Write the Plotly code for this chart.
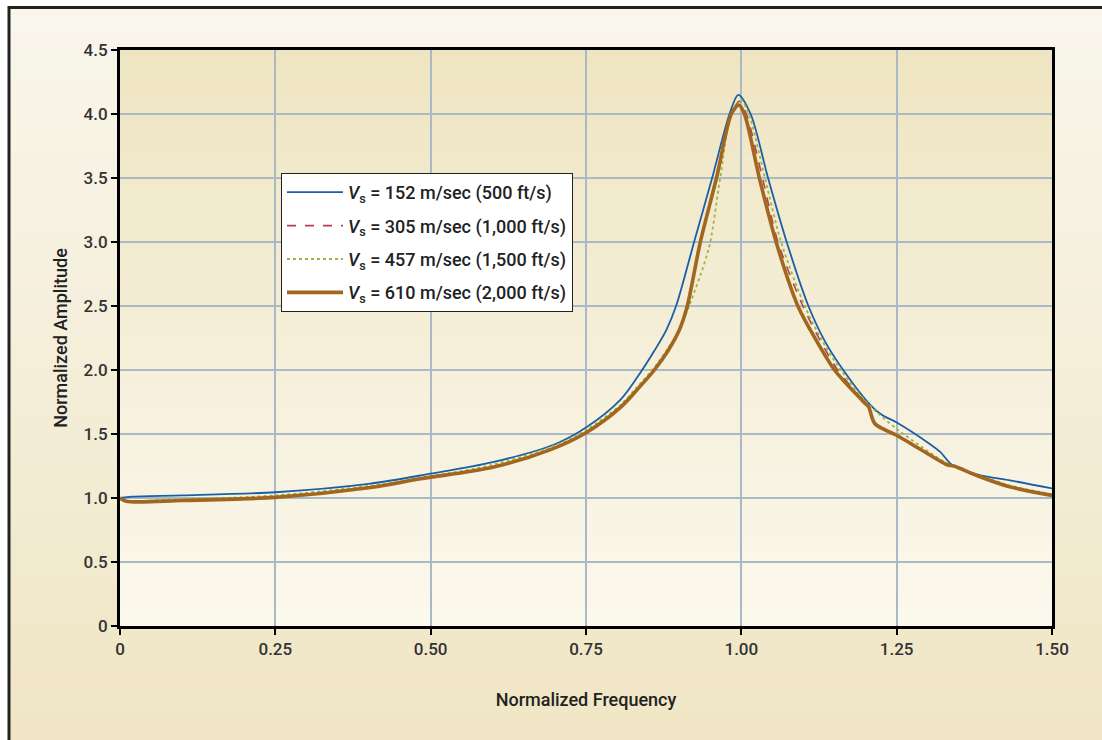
import plotly.graph_objects as go

# ---------------- data ----------------
x_152 = [0, 0.02, 0.1, 0.25, 0.4, 0.5, 0.6, 0.7, 0.75, 0.806, 0.839, 0.86, 0.879, 0.895, 0.924, 0.953, 0.981,
         0.995, 1.015, 1.043, 1.073, 1.108, 1.135, 1.164, 1.207, 1.226, 1.25, 1.301, 1.32, 1.339, 1.382, 1.43, 1.5]
y_152 = [1.0, 1.01, 1.02, 1.045, 1.11, 1.19, 1.28, 1.42, 1.55, 1.77, 1.99, 2.15, 2.31, 2.5, 3.0, 3.5, 4.0,
         4.15, 4.0, 3.5, 3.0, 2.5, 2.22, 2.0, 1.73, 1.65, 1.59, 1.43, 1.36, 1.26, 1.18, 1.14, 1.075]

x_305 = [0, 0.01, 0.1, 0.25, 0.4, 0.484, 0.6, 0.694, 0.75, 0.806, 0.833, 0.86, 0.882, 0.9, 0.913, 0.934, 0.960,
         0.984, 0.997, 1.008, 1.034, 1.059, 1.099, 1.127, 1.155, 1.2, 1.205, 1.215, 1.25, 1.29, 1.331, 1.342,
         1.382, 1.43, 1.5]
y_305 = [1.0, 0.978, 0.983, 1.01, 1.085, 1.155, 1.245, 1.385, 1.515, 1.715, 1.86, 2.0, 2.16, 2.31, 2.5, 3.0, 3.5,
         4.0, 4.10, 4.0, 3.5, 3.0, 2.5, 2.23, 2.0, 1.74, 1.71, 1.59, 1.495, 1.38, 1.26, 1.25,
         1.17, 1.09, 1.025]

x_457 = [0, 0.01, 0.1, 0.25, 0.4, 0.5, 0.6, 0.694, 0.75, 0.806, 0.833, 0.86, 0.882, 0.9, 0.916, 0.941, 0.950,
         0.966, 0.984, 1.0, 1.012, 1.038, 1.064, 1.102, 1.13, 1.16, 1.205, 1.25, 1.29, 1.335, 1.382, 1.43, 1.5]
y_457 = [1.0, 0.98, 0.99, 1.02, 1.095, 1.17, 1.26, 1.40, 1.53, 1.73, 1.87, 2.02, 2.17, 2.31, 2.5, 2.84, 3.0,
         3.5, 4.0, 4.10, 4.0, 3.5, 3.0, 2.5, 2.23, 2.0, 1.73, 1.54, 1.40, 1.26, 1.18, 1.10, 1.03]

x_610 = [0, 0.01, 0.1, 0.25, 0.4, 0.484, 0.6, 0.694, 0.75, 0.806, 0.833, 0.86, 0.882, 0.9, 0.913, 0.934, 0.960,
         0.984, 0.996, 1.005, 1.029, 1.056, 1.091, 1.122, 1.15, 1.164, 1.199, 1.205, 1.215, 1.25, 1.29, 1.331,
         1.342, 1.382, 1.43, 1.5]
y_610 = [1.0, 0.975, 0.98, 1.005, 1.08, 1.15, 1.24, 1.38, 1.51, 1.71, 1.85, 2.0, 2.15, 2.31, 2.5, 3.0, 3.5,
         4.0, 4.07, 4.0, 3.5, 3.0, 2.5, 2.22, 2.0, 1.92, 1.74, 1.71, 1.58, 1.49, 1.375, 1.26,
         1.25, 1.17, 1.09, 1.02]

names = ["<i>V</i><sub>s</sub> = 152 m/sec (500 ft/s)",
         "<i>V</i><sub>s</sub> = 305 m/sec (1,000 ft/s)",
         "<i>V</i><sub>s</sub> = 457 m/sec (1,500 ft/s)",
         "<i>V</i><sub>s</sub> = 610 m/sec (2,000 ft/s)"]

x_tickvals = [0, 0.25, 0.5, 0.75, 1.0, 1.25, 1.5]
x_ticktext = ["0", "0.25", "0.50", "0.75", "1.00", "1.25", "1.50"]
y_tickvals = [0, 0.5, 1.0, 1.5, 2.0, 2.5, 3.0, 3.5, 4.0, 4.5]
y_ticktext = ["0", "0.5", "1.0", "1.5", "2.0", "2.5", "3.0", "3.5", "4.0", "4.5"]

# ---------------- figure ----------------
FONT = "Roboto, Liberation Sans, sans-serif"
fig = go.Figure()

series = [
    (x_152, y_152, dict(color="#1a5fa6", width=1.8)),
    (x_305, y_305, dict(color="#b0404c", width=1.6, dash="dash")),
    (x_457, y_457, dict(color="#9cb443", width=1.8, dash="dot")),
    (x_610, y_610, dict(color="#a1661f", width=3.6)),
]
for i, (xs, ys, ln) in enumerate(series):
    ln = dict(ln, shape="spline", smoothing=0.85)
    fig.add_trace(go.Scatter(x=xs, y=ys, mode="lines", name=names[i], legendgroup=f"g{i}", line=ln))

W, H = 1102, 740
L, R, T, B = 120, 50, 50, 114
pw, ph = W - L - R, H - T - B


def px2x(px):
    return (px - L) / pw


def py2y(py):
    return (H - B - py) / ph


def lerp(c1, c2, t):
    a = [int(c1[i:i + 2], 16) for i in (1, 3, 5)]
    b = [int(c2[i:i + 2], 16) for i in (1, 3, 5)]
    return "#" + "".join(f"{round(a[k] + (b[k] - a[k]) * t):02x}" for k in range(3))


shapes = []
N = 60
top_py, bot_py = 7, H
for i in range(N):
    y0 = top_py + (bot_py - top_py) * i / N
    y1 = top_py + (bot_py - top_py) * (i + 1) / N + 1
    shapes.append(dict(type="rect", xref="paper", yref="paper", layer="below",
                       x0=px2x(8), x1=px2x(W + 5), y0=py2y(y1), y1=py2y(y0),
                       fillcolor=lerp("#f9f6ec", "#f0e6c5", i / (N - 1)), line=dict(width=0)))
for i in range(N):
    shapes.append(dict(type="rect", xref="paper", yref="paper", layer="below",
                       x0=0, x1=1, y0=1 - (i + 1) / N - 0.002, y1=1 - i / N,
                       fillcolor=lerp("#efe5c2", "#fbf8ed", i / (N - 1)), line=dict(width=0)))
shapes.append(dict(type="line", xref="paper", yref="paper", layer="above",
                   x0=px2x(9), x1=px2x(9), y0=py2y(H + 5), y1=py2y(6),
                   line=dict(color="#222222", width=3)))
shapes.append(dict(type="line", xref="paper", yref="paper", layer="above",
                   x0=px2x(8), x1=px2x(W + 5), y0=py2y(7.5), y1=py2y(7.5),
                   line=dict(color="#222222", width=3)))

tickfont = dict(family=FONT, size=17, color="#333333", weight=500)
titlefont = dict(family=FONT, size=18, color="#222222", weight=500)

fig.update_layout(
    width=W, height=H,
    margin=dict(l=L, r=R, t=T, b=B),
    paper_bgcolor="#ffffff",
    plot_bgcolor="rgba(0,0,0,0)",
    shapes=shapes,
    font=dict(family=FONT, size=17, color="#333333"),
    showlegend=True,
    legend=dict(x=px2x(281), y=py2y(173), xanchor="left", yanchor="top",
                bgcolor="#ffffff", bordercolor="#222222", borderwidth=1,
                font=dict(family=FONT, size=18, color="#222222", weight=500),
                tracegroupgap=7, itemwidth=56),
    xaxis=dict(range=[0, 1.5], tickvals=x_tickvals, ticktext=x_ticktext,
               showgrid=True, gridcolor="#a9b9c6", gridwidth=1.5,
               showline=True, linecolor="#000000", linewidth=3, mirror=True,
               ticks="outside", ticklen=6, tickwidth=2, tickcolor="#000000",
               zeroline=False, tickfont=tickfont,
               title=dict(text="Normalized Frequency", standoff=35, font=titlefont)),
    yaxis=dict(range=[0, 4.5], tickvals=y_tickvals, ticktext=y_ticktext,
               showgrid=True, gridcolor="#a9b9c6", gridwidth=1.5,
               showline=True, linecolor="#000000", linewidth=3, mirror=True,
               ticks="outside", ticklen=6, tickwidth=2, tickcolor="#000000",
               zeroline=False, tickfont=tickfont,
               title=dict(text="Normalized Amplitude", standoff=12, font=titlefont)),
)

fig.write_html("out.html")
